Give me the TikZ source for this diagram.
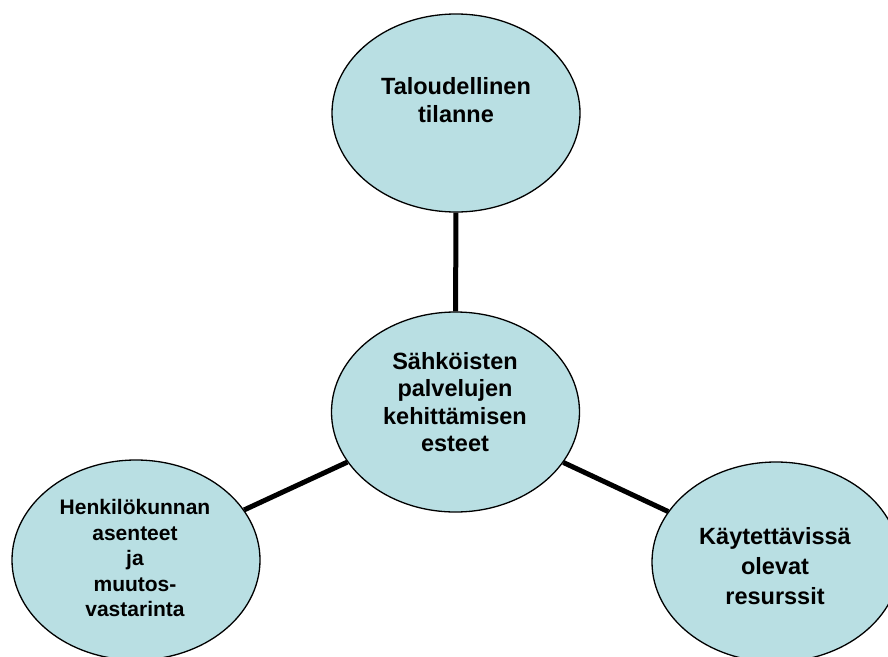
\documentclass[tikz,border=0pt]{standalone}
\usepackage{fontspec}
\setmainfont{Liberation Sans}
\usetikzlibrary{shapes.geometric}
\definecolor{bubblefill}{RGB}{185,223,227}
\begin{document}
\begin{tikzpicture}[x=1pt,y=-1pt,
  bubble/.style={ellipse, draw=black, line width=1.3pt, fill=bubblefill,
    minimum width=248pt, minimum height=200pt, inner sep=0pt},
  txt/.style={align=center, inner sep=0pt, font=\bfseries\fontsize{23.5}{27.5}\selectfont},
  smalltxt/.style={align=center, inner sep=0pt, font=\bfseries\fontsize{21}{25.5}\selectfont},
  widetxt/.style={align=center, inner sep=0pt, font=\bfseries\fontsize{23.5}{30}\selectfont},
  link/.style={draw=black, line width=5pt}]
\useasboundingbox (0,0) rectangle (888,656);
\node[bubble, minimum height=198pt] (top) at (456,113) {};
\node[bubble] (mid) at (455.5,412) {};
\node[bubble] (left) at (136,560) {};
\node[bubble] (right) at (776,562) {};
\draw[link] (mid) -- (top);
\draw[link] (mid) -- (left);
\draw[link] (mid) -- (right);
\node[txt] (toptxt) at (456,100) {Taloudellinen\\tilanne};
\node[txt] (midtxt) at (455,402) {Sähköisten\\palvelujen\\kehittämisen\\esteet};
\node[smalltxt] (lefttxt) at (135,558) {Henkilökunnan\\asenteet\\ja\\muutos-\\vastarinta};
\node[widetxt] (righttxt) at (775,566) {Käytettävissä\\olevat\\resurssit};
\end{tikzpicture}
\end{document}
